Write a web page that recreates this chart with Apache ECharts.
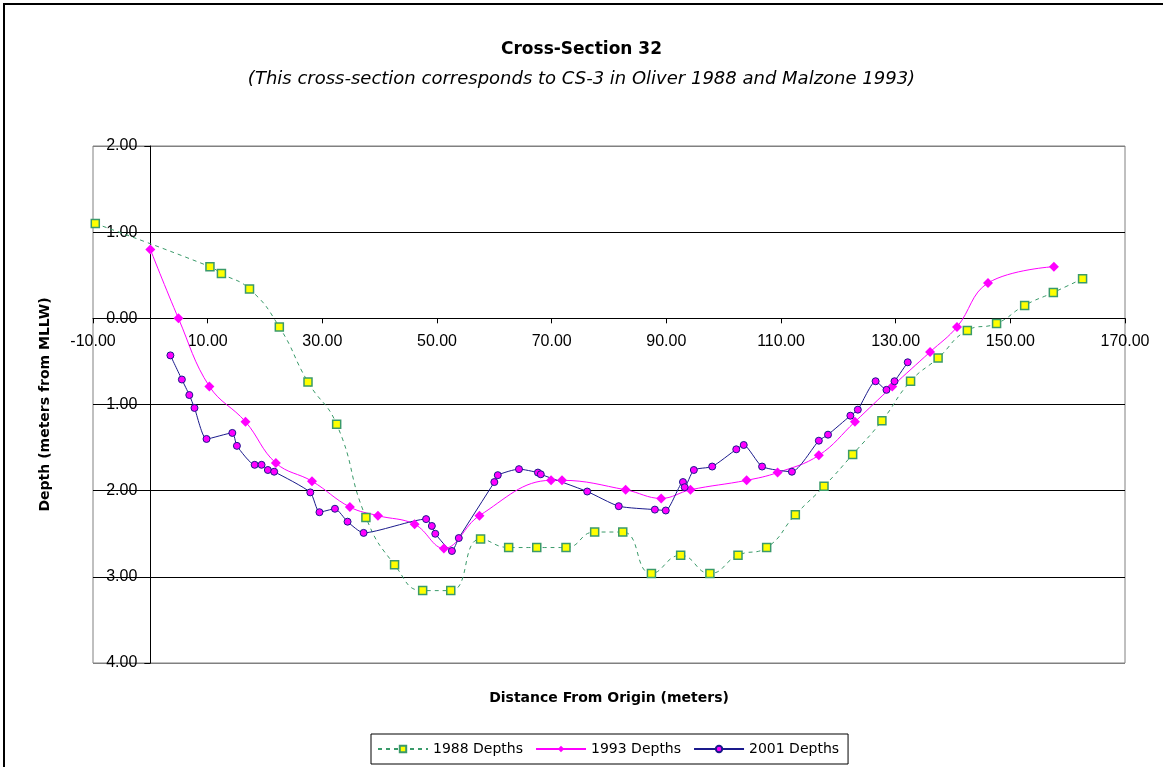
<!DOCTYPE html>
<html>
<head>
<meta charset="utf-8">
<script src="https://cdn.jsdelivr.net/npm/echarts@6/dist/echarts.min.js"></script>
<style>
html,body{margin:0;padding:0;background:#fff;}
#chart{width:1163px;height:767px;}
</style>
</head>
<body>
<div id="chart"></div>
<script>
// ---- data ----
const x1988 = [-9.6, 10.4, 12.4, 17.3, 22.5, 27.5, 32.5, 37.6, 42.6, 47.5, 52.4, 57.6, 62.5, 67.4, 72.5, 77.5, 82.4, 87.4, 92.5, 97.6, 102.5, 107.5, 112.5, 117.5, 122.5, 127.6, 132.6, 137.4, 142.5, 147.6, 152.5, 157.5, 162.6];
const y1988 = [1.10, 0.60, 0.52, 0.34, -0.10, -0.74, -1.23, -2.31, -2.86, -3.16, -3.16, -2.56, -2.66, -2.66, -2.66, -2.48, -2.48, -2.96, -2.75, -2.96, -2.75, -2.66, -2.28, -1.95, -1.58, -1.19, -0.73, -0.46, -0.14, -0.06, 0.15, 0.30, 0.46];

const x1993 = [0, 4.9, 10.3, 16.6, 21.9, 28.2, 34.8, 39.7, 46.1, 51.2, 57.4, 69.9, 71.8, 82.9, 89.1, 94.2, 104.0, 109.4, 116.6, 122.9, 129.4, 136.0, 140.7, 146.1, 157.6];
const y1993 = [0.80, 0, -0.79, -1.20, -1.68, -1.89, -2.19, -2.29, -2.39, -2.67, -2.29, -1.88, -1.88, -1.99, -2.09, -1.99, -1.88, -1.79, -1.59, -1.20, -0.79, -0.39, -0.10, 0.41, 0.60];

const x2001 = [3.5, 5.5, 6.8, 7.7, 9.8, 14.3, 15.1, 18.2, 19.4, 20.5, 21.6, 27.9, 29.5, 32.2, 34.4, 37.2, 48.1, 49.1, 49.7, 52.6, 53.8, 60.0, 60.6, 64.3, 67.6, 68.1, 76.2, 81.7, 88.0, 89.9, 92.9, 93.2, 94.8, 98.0, 102.2, 103.5, 106.7, 111.9, 116.6, 118.2, 122.1, 123.4, 126.5, 128.4, 129.8, 132.1];
const y2001 = [-0.43, -0.71, -0.89, -1.04, -1.40, -1.33, -1.48, -1.70, -1.70, -1.76, -1.78, -2.02, -2.25, -2.21, -2.36, -2.49, -2.33, -2.41, -2.50, -2.70, -2.55, -1.90, -1.82, -1.75, -1.79, -1.81, -2.01, -2.18, -2.22, -2.23, -1.90, -1.96, -1.76, -1.72, -1.52, -1.47, -1.72, -1.78, -1.42, -1.35, -1.13, -1.06, -0.73, -0.83, -0.73, -0.51];

const seriesNames = ['1988 Depths', '1993 Depths', '2001 Depths'];
const titleText = 'Cross-Section 32';
const subtitleText = '(This cross-section corresponds to CS-3 in Oliver 1988 and Malzone 1993)';
const xAxisName = 'Distance From Origin (meters)';
const yAxisName = 'Depth (meters from MLLW)';
const xMin = -10, xMax = 170, xStep = 20;
const yMin = -4, yMax = 2, yStep = 1;

const pairs = (xs, ys) => xs.map((x, i) => [x, ys[i]]);

// grid geometry
const W = 1163, H = 767;
const gLeft = 93, gRight = 38, gTop = 146, gBottom = 104;
const gW = W - gLeft - gRight, gH = H - gTop - gBottom;
// move the axes so that they cross at (0, 0), like the original chart
const xAxisOffset = -(gH - gH * (yMax - 0) / (yMax - yMin));
const yAxisOffset = -(gW * (0 - xMin) / (xMax - xMin));

const chart = echarts.init(document.getElementById('chart'), null, {renderer: 'canvas'});
chart.setOption({
  backgroundColor: '#ffffff',
  animation: false,
  graphic: [{
    type: 'rect',
    shape: {x: 4, y: 4, width: 1400, height: 1000},
    style: {fill: 'none', stroke: '#000', lineWidth: 2},
    silent: true
  }],
  title: {
    text: titleText,
    subtext: subtitleText,
    left: 'center',
    top: 41,
    padding: 0,
    itemGap: 12,
    textStyle: {fontFamily: 'DejaVu Sans', fontSize: 17, fontWeight: 'bold', color: '#000'},
    subtextStyle: {fontFamily: 'DejaVu Sans', fontSize: 18, fontStyle: 'italic', color: '#000'}
  },
  grid: {left: gLeft, right: gRight, top: gTop, bottom: gBottom, containLabel: false, outerBoundsMode: 'none',
    show: true, borderColor: '#808080', borderWidth: 1, backgroundColor: 'transparent'},
  legend: {
    data: seriesNames,
    bottom: 3,
    left: 371,
    borderColor: '#000',
    borderWidth: 1,
    padding: [8, 9, 8, 6],
    itemWidth: 50,
    itemHeight: 8,
    itemGap: 12,
    textStyle: {fontFamily: 'DejaVu Sans', fontSize: 14, color: '#000'}
  },
  xAxis: {
    type: 'value',
    min: xMin, max: xMax, interval: xStep,
    position: 'bottom',
    offset: xAxisOffset,
    name: xAxisName,
    nameLocation: 'middle',
    nameGap: 373,
    nameTextStyle: {fontFamily: 'DejaVu Sans', fontSize: 14, fontWeight: 'bold', color: '#000'},
    axisLine: {onZero: false, lineStyle: {color: '#000', width: 1}},
    axisTick: {show: true, length: 5, lineStyle: {color: '#000'}},
    axisLabel: {fontFamily: 'Liberation Sans', fontSize: 16, color: '#000', margin: 15,
      formatter: v => v.toFixed(2)},
    splitLine: {show: false}
  },
  yAxis: {
    type: 'value',
    min: yMin, max: yMax, interval: yStep,
    position: 'left',
    offset: yAxisOffset,
    name: yAxisName,
    nameLocation: 'middle',
    nameGap: 98,
    nameRotate: 90,
    nameTextStyle: {fontFamily: 'DejaVu Sans', fontSize: 14, fontWeight: 'bold', color: '#000'},
    axisLine: {onZero: false, lineStyle: {color: '#000', width: 1}},
    axisTick: {show: true, length: 6, lineStyle: {color: '#000'}},
    axisLabel: {fontFamily: 'Liberation Sans', fontSize: 16, color: '#000', margin: 13,
      formatter: v => Math.abs(v).toFixed(2)},
    splitLine: {show: true, lineStyle: {color: ['#808080', '#000', '#000', '#000', '#000', '#000', '#808080'], width: 1}}
  },
  series: [
    {
      name: seriesNames[0], type: 'line', data: pairs(x1988, y1988),
      smooth: 0.5,
      symbol: 'rect', symbolSize: 8,
      lineStyle: {color: '#3a9a6a', width: 1, type: [4, 4]},
      itemStyle: {color: '#ffff00', borderColor: '#3a9a6a', borderWidth: 1.5}
    },
    {
      name: seriesNames[1], type: 'line', data: pairs(x1993, y1993),
      smooth: 0.4,
      symbol: 'diamond', symbolSize: 10,
      lineStyle: {color: '#ff00ff', width: 1},
      itemStyle: {color: '#ff00ff', borderColor: '#ff00ff', borderWidth: 0}
    },
    {
      name: seriesNames[2], type: 'line', data: pairs(x2001, y2001),
      smooth: 0.2,
      symbol: 'circle', symbolSize: 7,
      lineStyle: {color: '#1a1a8c', width: 1},
      itemStyle: {color: '#ff00ff', borderColor: '#1a1a8c', borderWidth: 1}
    }
  ]
});
</script>
</body>
</html>
